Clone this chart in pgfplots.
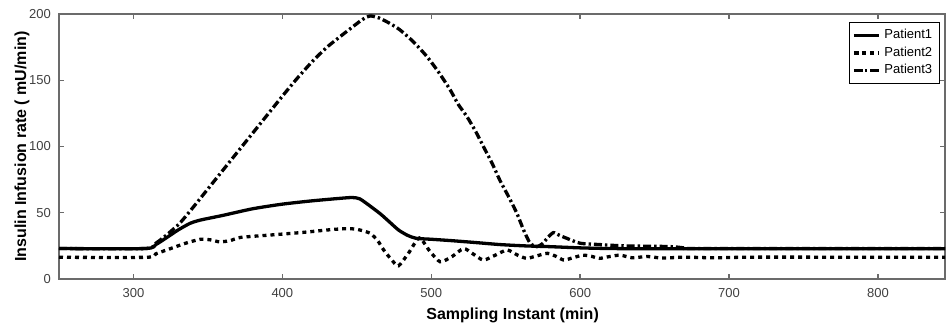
\documentclass[border=0pt]{standalone}
\usepackage{pgfplots}
\pgfplotsset{compat=1.18}
\usepackage{fontspec}
\setmainfont{Liberation Sans}
\definecolor{axgray}{rgb}{0.42,0.42,0.42}
\begin{document}
\begin{tikzpicture}
\begin{axis}[
  scale only axis,
  width=443pt, height=132.5pt,
  xmin=250, xmax=845, ymin=0, ymax=200,
  xtick={300,400,500,600,700,800},
  ytick={0,50,100,150,200},
  tick align=inside,
  major tick length=2.5pt,
  axis line style={axgray, line width=0.7pt},
  every tick/.style={axgray, line width=0.7pt},
  /pgf/number format/assume math mode=true,
  tick label style={font=\fontsize{6.5}{7}\selectfont, text=black!75},
  xticklabel style={yshift=-1pt},
  yticklabel style={xshift=-0.5pt},
  xlabel={\textbf{Sampling Instant (min)}},
  ylabel={\textbf{Insulin Infusion rate ( mU/min)}},
  label style={font=\fontsize{8}{9}\selectfont},
  xlabel style={at={(axis description cs:0.512,0)}, yshift=-18pt, anchor=center},
  ylabel style={at={(axis description cs:-0.0418,0.5)}, anchor=center},
  legend style={at={(0.994,0.97)}, anchor=north east, draw=black, line width=0.5pt,
    font=\fontsize{6.5}{7.5}\selectfont, inner sep=1.5pt, row sep=-1.5pt,
    legend cell align=left},
  legend image code/.code={\draw[#1] plot coordinates {(0pt,0pt) (12.5pt,0pt)};},
]
\addplot[black, line width=1.65pt, smooth, tension=0.4] coordinates {
(250,23) (308,23) (315,26) (322,31) (330,37) (338,42) (345,44.5) (360,48)
(380,53) (400,56.5) (420,59) (440,61) (447,61.5) (452,60.5) (459,55) (466,49)
(472,43) (478,37) (484,33) (490,30.7) (500,30) (513,29) (530,27.5) (546,26)
(563,25) (580,24.4) (600,23.5) (620,23) (650,22.8) (700,22.8) (845,22.8)
};
\addlegendentry{Patient1}
\addplot[black, line width=1.65pt, dash pattern=on 2pt off 2pt, smooth, tension=0.4] coordinates {
(250,16.4) (309,16.4) (315,19) (325,23) (335,27) (345,30) (352,29.5) (358,28)
(365,29) (372,31.4) (392,33.2) (414,35.2) (435,37.5) (446,38) (452,37)
(459,34.5) (464,29) (468,22) (473,15) (478,10) (485,20) (492,31) (499,21)
(506,13) (514,17) (521.7,23) (528,19) (535,14.3) (543,18) (551,21.9) (558,18)
(564,15.6) (571,17.5) (578,19.4) (584,17) (589,14.3) (595,16) (602,18) (608,17)
(613,15.6) (620,17) (627,18) (635,16) (645,17) (655,15.8) (670,16.5) (690,16)
(720,16.5) (845,16.4)
};
\addlegendentry{Patient2}
\addplot[black, line width=1.65pt, dash pattern=on 4pt off 1.5pt on 1.2pt off 1.5pt, smooth, tension=0.4] coordinates {
(250,23) (308,23) (315,27) (322,33) (331,42) (340,54) (350,68) (360,82)
(370,96) (380,110) (390,124) (400,138) (410,151.5) (420,164) (430,175)
(440,184) (448,191) (454,196) (459,198.5) (465,197)
(472,193) (479,188) (488,179) (497,168) (505,156) (512.8,142.6) (518,132)
(524,122.5) (530,111) (535,100) (541,87) (546,74.7) (552,62) (557.5,49.6)
(562,37) (566.4,27) (571,24.4) (575,27) (578,31) (582,35) (586,33) (591,30.7)
(600,27) (613,26) (630,25) (660,24.5) (670,23.5) (680,23) (845,23)
};
\addlegendentry{Patient3}
\end{axis}
\pgfresetboundingbox
\path ([shift={(-29.5pt,-24.5pt)}]current axis.south west) rectangle ([shift={(1.5pt,7pt)}]current axis.north east);
\end{tikzpicture}
\end{document}
